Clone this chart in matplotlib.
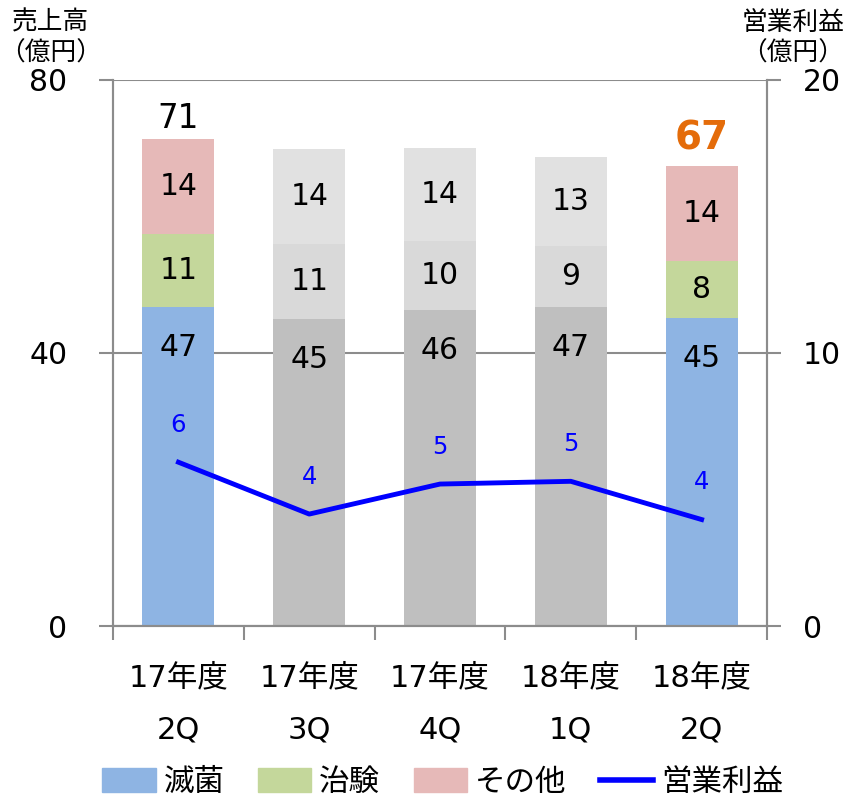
import matplotlib
matplotlib.use("Agg")
from matplotlib import pyplot as plt
from matplotlib.patches import Patch
from matplotlib.lines import Line2D

# wide Verdana-like digits from DejaVu, Japanese glyphs from Noto
plt.rcParams['font.family'] = ['DejaVu Sans', 'Noto Sans CJK JP']

quarters = ['17年度\n2Q', '17年度\n3Q', '17年度\n4Q', '18年度\n1Q', '18年度\n2Q']
sterilize = [46.7, 45.0, 46.3, 46.7, 45.1]   # 滅菌
trial     = [10.7, 11.0, 10.1, 9.0, 8.4]     # 治験
other     = [14.0, 13.9, 13.6, 13.0, 13.9]   # その他
profit    = [6.0, 4.1, 5.2, 5.3, 3.9]        # 営業利益
highlight = [True, False, False, False, True]

blue, green, pink = '#8EB4E3', '#C4D79B', '#E6B9B8'
grays = ['#BFBFBF', '#D9D9D9', '#E1E1E1']
axis_gray = '#8C8C8C'
fs = 21.5

fig = plt.figure(figsize=(8.48, 7.99), dpi=100)
ax = fig.add_axes([0.1333, 0.2165, 0.7712, 0.6834])
ax2 = ax.twinx()

xs = list(range(len(quarters)))
w = 0.55
for i in xs:
    cols = [blue, green, pink] if highlight[i] else grays
    b = 0
    for k, (val, c) in enumerate(zip([sterilize[i], trial[i], other[i]], cols)):
        ax.bar(i, val, bottom=b, width=w, color=c, zorder=2)
        if k == 0:
            # bottom segment label sits near the top of the segment
            ax.annotate(f"{val:.0f}", (i, b + val), xytext=(0, -29),
                        textcoords='offset points', ha='center', va='center',
                        fontsize=fs, zorder=3)
        else:
            ax.text(i, b + val / 2, f"{val:.0f}", ha='center', va='center',
                    fontsize=fs, zorder=3)
        b += val

totals = [s + t + o for s, t, o in zip(sterilize, trial, other)]
ax.annotate(f"{totals[0]:.0f}", (0, totals[0]), xytext=(0, 14.5),
            textcoords='offset points', ha='center', va='center', fontsize=23.5)
ax.annotate(f"{totals[4]:.0f}", (4, totals[4]), xytext=(0, 20),
            textcoords='offset points', ha='center', va='center', fontsize=28,
            fontweight='bold', color='#E46C0A')

ax2.plot(xs, profit, color='#0000FF', lw=3.5, zorder=4)
for i, p in zip(xs, profit):
    ax2.annotate(f"{p:.0f}", (i, p), xytext=(0, 27), textcoords='offset points',
                 ha='center', va='center', color='#0000FF', fontsize=17.5)

ax.set_xlim(-0.5, 4.5)
ax.set_ylim(0, 80)
ax2.set_ylim(0, 20)
ax.set_yticks([0, 40, 80])
ax2.set_yticks([0, 10, 20])
ax.yaxis.grid(True, color=axis_gray, lw=1.5, zorder=1)
ax.set_axisbelow(True)

ax.set_xticks([i - 0.5 for i in range(6)])
ax.set_xticklabels([])
ax.set_xticks(xs, minor=True)
ax.set_xticklabels(quarters, minor=True, fontsize=22, linespacing=2.0)
ax.tick_params(axis='x', which='minor', length=0, pad=27)
ax.tick_params(axis='x', which='major', length=10, width=1.5, color=axis_gray)
ax.tick_params(axis='y', length=10, width=1.5, color=axis_gray, labelsize=fs, pad=23)
ax2.tick_params(axis='y', length=10, width=1.5, color=axis_gray, labelsize=fs, pad=16)

for a in (ax, ax2):
    a.spines['top'].set_visible(False)
    for s in ('left', 'right', 'bottom'):
        a.spines[s].set_color(axis_gray)
        a.spines[s].set_linewidth(1.5)

fig.text(0.060, 0.952, '売上高\n（億円）', ha='center', va='center', fontsize=18.5,
         linespacing=1.25)
fig.text(0.935, 0.952, '営業利益\n（億円）', ha='center', va='center', fontsize=18.5,
         linespacing=1.25)

handles = [Patch(color=blue), Patch(color=green), Patch(color=pink),
           Line2D([0], [0], color='#0000FF', lw=4)]
fig.legend(handles, ['滅菌', '治験', 'その他', '営業利益'], loc='center',
           bbox_to_anchor=(0.522, 0.021), ncol=4, frameon=False, fontsize=22,
           handlelength=1.75, handleheight=0.8, handletextpad=0.25,
           columnspacing=1.1, borderpad=0)

fig.savefig('out.png', dpi=100)
